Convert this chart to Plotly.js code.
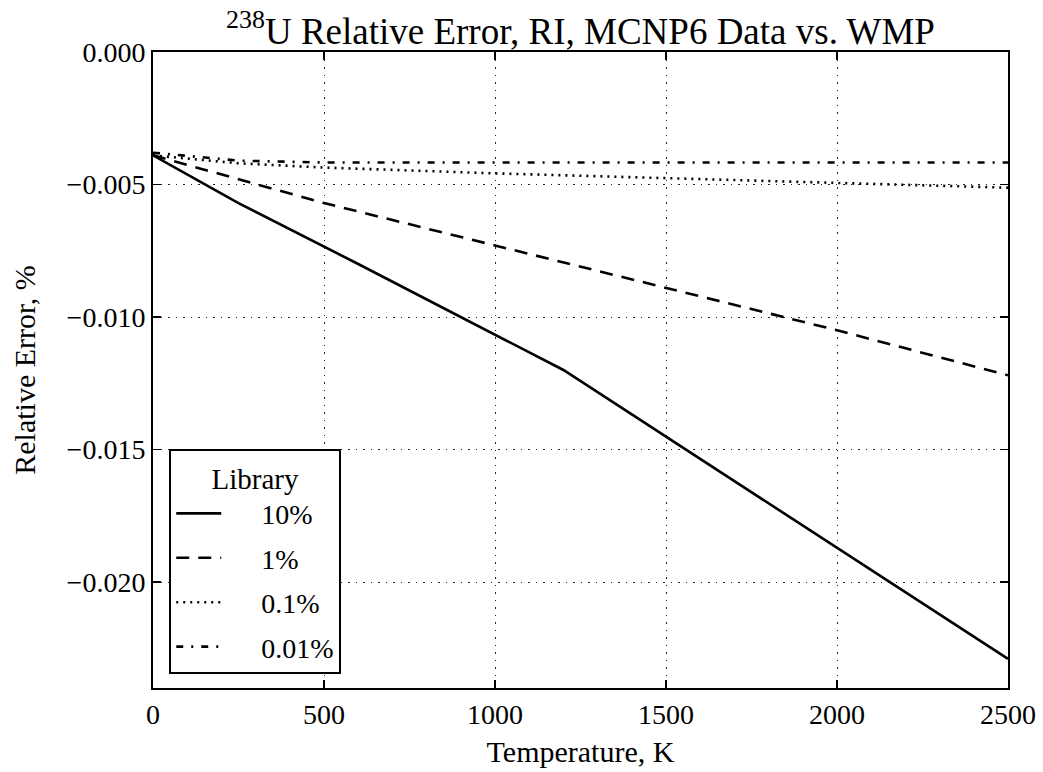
<!DOCTYPE html>
<html>
<head>
<meta charset="utf-8">
<script src="https://cdn.plot.ly/plotly-3.0.1.min.js"></script>
<style>body{margin:0;padding:0;background:#fff}</style>
</head>
<body>
<div id="chart" style="width:1043px;height:772px"></div>
<script>
// Data
const temps10 = [0, 250, 600, 900, 1200, 2500];
const err10 = [-0.0039, -0.0057, -0.0080, -0.0100, -0.0120, -0.0229];

const temps1 = [0, 250, 500, 1000, 1500, 2000, 2500];
const err1 = [-0.0039, -0.0048, -0.0057, -0.0073, -0.0089, -0.0105, -0.0122];

const temps01 = [0, 250, 500, 1000, 1500, 2000, 2500];
const err01 = [-0.0039, -0.0042, -0.00436, -0.00458, -0.00476, -0.00495, -0.00512];

const temps001 = [0, 250, 500, 1000, 1500, 2000, 2500];
const err001 = [-0.0038, -0.0041, -0.00417, -0.00417, -0.00417, -0.00417, -0.00417];

const seriesNames = ['10%', '1%', '0.1%', '0.01%'];
const xTicks = [0, 500, 1000, 1500, 2000, 2500];
const yTicks = [0, -0.005, -0.010, -0.015, -0.020];

const FONT = 'Liberation Serif, Times New Roman, serif';
const dashes = ['solid', '13px,9px', '2px,5px', '7px,8px,2px,8px'];
const xs = [temps10, temps1, temps01, temps001];
const ys = [err10, err1, err01, err001];
const GAP = '\u00a0\u00a0\u00a0\u00a0\u00a0';

const traces = seriesNames.map((n, i) => ({
  x: xs[i], y: ys[i], name: GAP + n, mode: 'lines', type: 'scatter',
  legendgroup: 'g' + i,
  line: {color: '#000', width: 2.6, dash: dashes[i]}
}));

const axisCommon = {
  showline: true, linecolor: '#000', linewidth: 2, mirror: 'ticks',
  ticks: 'inside', ticklen: 8, tickwidth: 1.5, tickcolor: '#000',
  showgrid: true, gridcolor: '#222', gridwidth: 1, griddash: '1.5px,6px',
  zeroline: false,
  tickfont: {family: FONT, size: 28, color: '#000'}
};

const layout = {
  width: 1043, height: 772,
  margin: {l: 153, r: 35, t: 52, b: 84},
  paper_bgcolor: '#fff', plot_bgcolor: '#fff',
  font: {family: FONT, color: '#000'},
  title: {
    text: '<sup>238</sup>U Relative Error, RI, MCNP6 Data vs. WMP',
    font: {family: FONT, size: 37, color: '#000'},
    x: 0.5, xref: 'paper', xanchor: 'center',
    y: 1, yref: 'paper', yanchor: 'bottom', pad: {b: 8}
  },
  xaxis: Object.assign({}, axisCommon, {
    range: [0, 2500], tickvals: xTicks, ticktext: xTicks.map(String),
    title: {text: 'Temperature, K', font: {family: FONT, size: 30, color: '#000'}, standoff: 12}
  }),
  yaxis: Object.assign({}, axisCommon, {
    range: [-0.024, 0], tickvals: yTicks, tickformat: '.3f',
    title: {text: 'Relative Error, %', font: {family: FONT, size: 30, color: '#000'}, standoff: 22}
  }),
  showlegend: true,
  legend: {
    x: 0.019, y: 0.022, xanchor: 'left', yanchor: 'bottom',
    bgcolor: '#fff', bordercolor: '#000', borderwidth: 2,
    font: {family: FONT, size: 28, color: '#000'},
    title: {text: 'Library', side: 'top center', font: {family: FONT, size: 29, color: '#000'}},
    traceorder: 'grouped', tracegroupgap: 5, itemwidth: 45
  }
};

Plotly.newPlot('chart', traces, layout, {displayModeBar: false, staticPlot: true});
</script>
</body>
</html>
